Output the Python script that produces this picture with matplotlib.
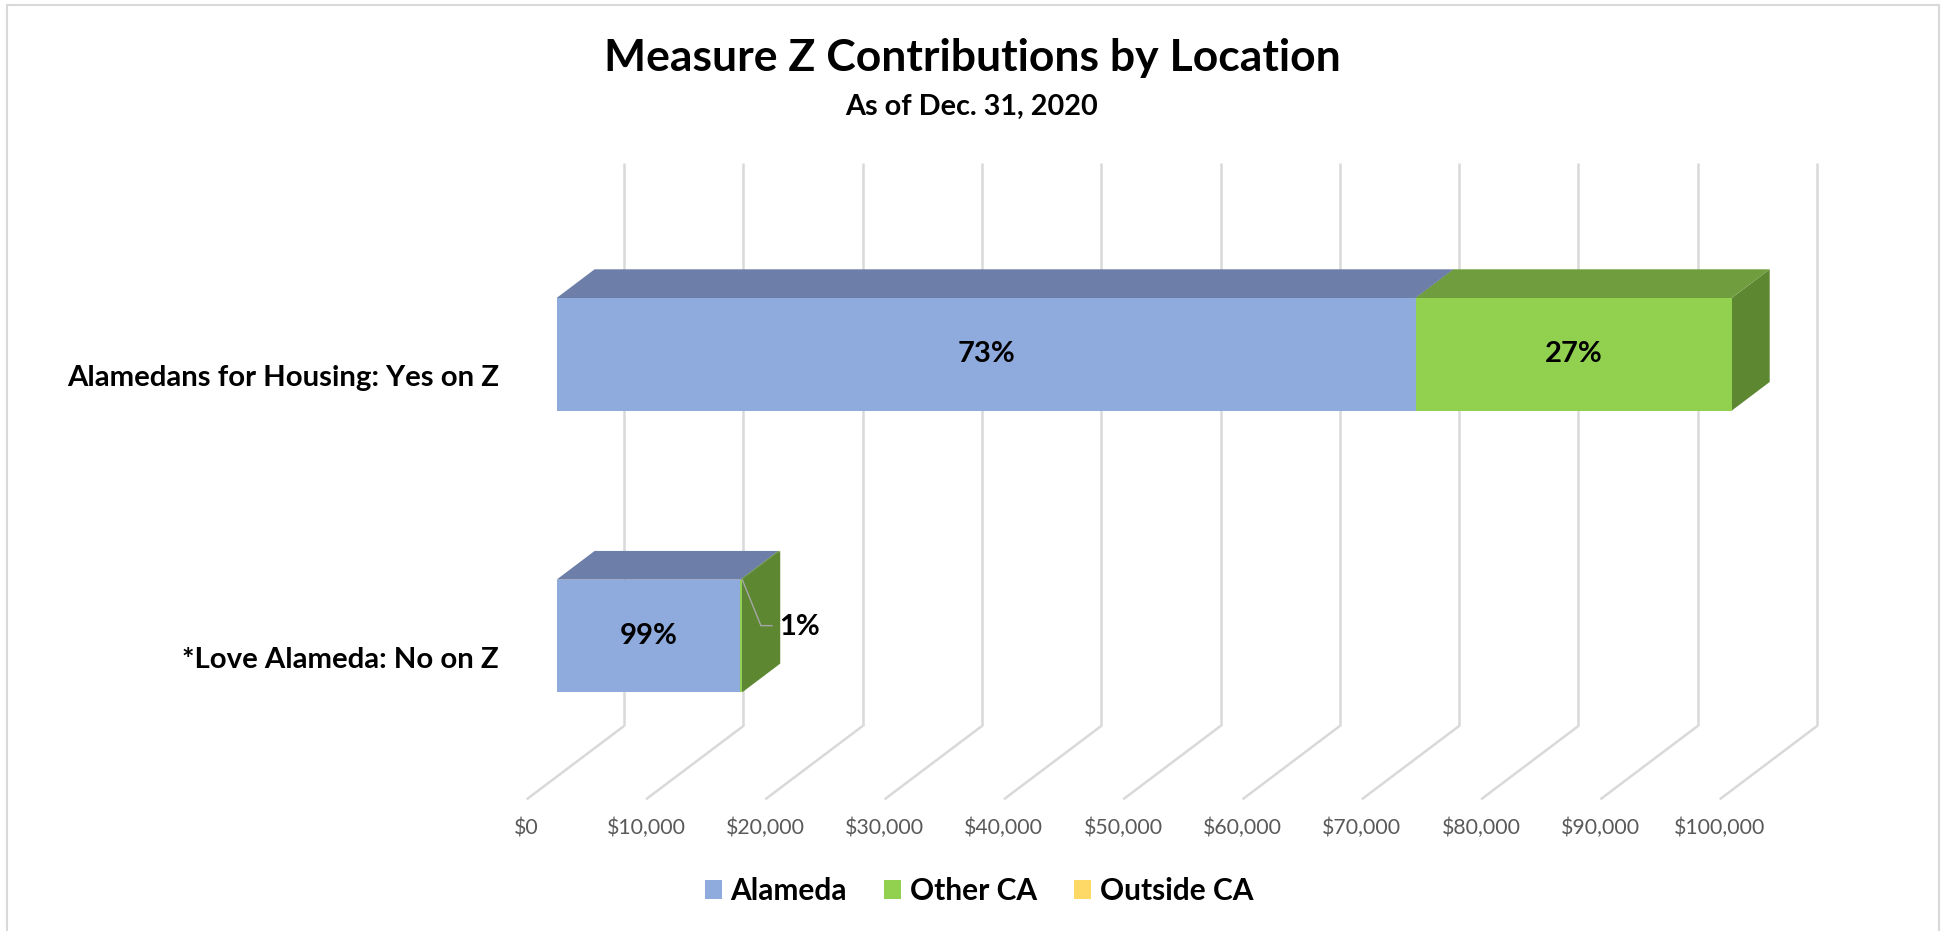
import matplotlib
matplotlib.use("Agg")
import matplotlib.pyplot as plt
from matplotlib.patches import Polygon, Rectangle, Patch

# ---------------- data ----------------
categories = ["Alamedans for Housing: Yes on Z", "*Love Alameda: No on Z"]
series_names = ["Alameda", "Other CA", "Outside CA"]
alameda = [72000, 15400]
other_ca = [26500, 160]
outside_ca = [0, 0]
pct_labels = [["73%", "27%", ""], ["99%", "1%", ""]]
xticks = [0, 10000, 20000, 30000, 40000, 50000, 60000, 70000, 80000, 90000, 100000]
xtick_labels = ["$0", "$10,000", "$20,000", "$30,000", "$40,000", "$50,000",
                "$60,000", "$70,000", "$80,000", "$90,000", "$100,000"]
title = "Measure Z Contributions by Location"
subtitle = "As of Dec. 31, 2020"

# ---------------- style ----------------
front_cols = ["#8FAADC", "#92D050", "#FFD966"]
top_cols = ["#6D7FA8", "#709D3D", "#C9AB50"]
side_cols = ["#5B6B8F", "#5E8732", "#B39845"]
grid_col = "#D9D9D9"
FONT = ["Lato", "DejaVu Sans"]

W, H, DPI = 1948, 931, 100
fig = plt.figure(figsize=(W / DPI, H / DPI), dpi=DPI)
fig.patch.set_facecolor("white")

# plot area (front plane of bars), pixel geometry
x0_px, span_px = 556.6, 1193.0
ytop_px, ybot_px = 213.5, 776.8
ax = fig.add_axes([x0_px / W, 1 - ybot_px / H, span_px / W, (ybot_px - ytop_px) / H])
ax.set_xlim(0, 100000)
ax.set_ylim(1.5, -0.5)
ax.axis("off")

dxd = 100000 / span_px          # data-x per pixel
dyd = 2.0 / (ybot_px - ytop_px)  # data-y per pixel (positive = down)

# depth offsets (pixels: right, down)
back = (67.4, -50.8)
front = (-29.9, 22.5)
bar_depth = (38.0, -28.7)

# ---------------- gridlines ----------------
for v in xticks:
    bx, by = v + back[0] * dxd, back[1] * dyd
    fx, fy = v + front[0] * dxd, front[1] * dyd
    ax.plot([bx, bx], [-0.5 + by, 1.5 + by], color=grid_col, lw=1.8,
            clip_on=False, zorder=1, solid_capstyle="butt")
    ax.plot([bx, fx], [1.5 + by, 1.5 + fy], color=grid_col, lw=1.8,
            clip_on=False, zorder=1, solid_capstyle="butt")

# tick labels
for v, lab in zip(xticks, xtick_labels):
    ax.text(v + front[0] * dxd, 1.5 + (front[1] + 29) * dyd, lab, ha="center",
            va="center", fontsize=15.3, color="#595959", family=FONT)

# ---------------- bars ----------------
series = [alameda, other_ca, outside_ca]
bh = 0.4
DX, DY = bar_depth[0] * dxd, bar_depth[1] * dyd
for i, cat in enumerate(categories):
    left = 0
    for j, vals in enumerate(series):
        w = vals[i]
        if w <= 0:
            continue
        z = 3 + j * 0.3
        yt, yb = i - bh / 2, i + bh / 2
        ax.add_patch(Polygon([(left + w, yt), (left + w, yb), (left + w + DX, yb + DY),
                              (left + w + DX, yt + DY)], closed=True,
                             facecolor=side_cols[j], edgecolor="none", zorder=z,
                             clip_on=False))
        ax.barh(i, w, left=left, height=bh, color=front_cols[j], zorder=z + 0.1,
                clip_on=False)
        ax.add_patch(Polygon([(left, yt), (left + w, yt), (left + w + DX, yt + DY),
                              (left + DX, yt + DY)], closed=True,
                             facecolor=top_cols[j], edgecolor="none", zorder=z + 0.1,
                             clip_on=False))
        lab = pct_labels[i][j]
        if lab:
            if w * span_px / 100000 > 60:
                ax.text(left + w / 2, i, lab, ha="center", va="center", fontsize=21,
                        fontweight="bold", family=FONT, zorder=10)
            else:
                cx, cy = left + w, yt
                ax.plot([cx, cx + 18.7 * dxd, cx + 29.7 * dxd],
                        [cy, cy + 46 * dyd, cy + 46 * dyd], color="#A6A6A6", lw=1,
                        zorder=10, clip_on=False)
                ax.text(cx + 37 * dxd, cy + 47 * dyd, lab, ha="left", va="center",
                        fontsize=21, fontweight="bold", family=FONT, zorder=10)
        left += w

# category labels
for i, cat in enumerate(categories):
    ax.text(-57.6 * dxd, i + 24 * dyd, cat, ha="right", va="center", fontsize=21.2,
            fontweight="bold", family=FONT)

# ---------------- titles ----------------
fig.text(972 / W, 1 - 70.7 / H, title, ha="center", va="baseline", fontsize=32,
         fontweight="bold", family=FONT)
fig.text(972 / W, 1 - 115 / H, subtitle, ha="center", va="baseline", fontsize=20.7,
         fontweight="bold", family=FONT)

# ---------------- legend ----------------
handles = [Patch(facecolor=c, edgecolor="none") for c in front_cols]
fig.legend(handles, series_names, loc="center", bbox_to_anchor=(979 / W, 1 - 891 / H),
           ncol=3, frameon=False, handlelength=0.56, handleheight=0.56,
           handletextpad=0.3, columnspacing=1.24,
           prop={"family": FONT, "weight": "bold", "size": 21.5})

# border
fig.add_artist(Rectangle((7 / W, -0.02), (1939 - 7) / W, 1.02 - 5 / H, transform=fig.transFigure,
                         fill=False, edgecolor=grid_col, lw=1.5))

fig.savefig("out.png", dpi=DPI, facecolor="white")
